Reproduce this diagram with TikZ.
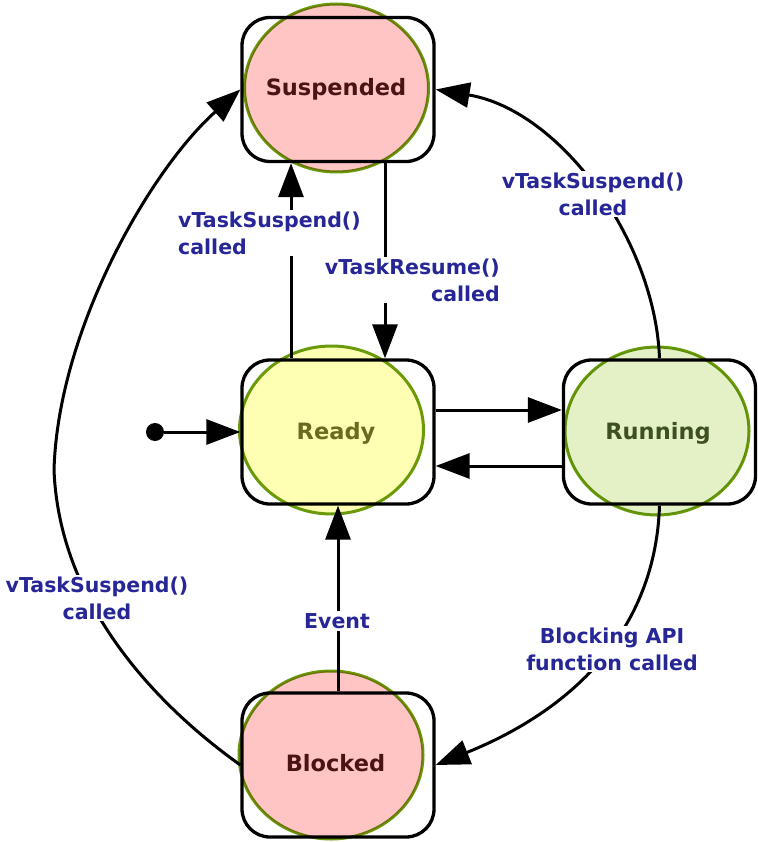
\documentclass[tikz,border=0pt]{standalone}
\usepackage{fontspec}
\setmainfont{DejaVu Sans}
\usetikzlibrary{arrows.meta,shapes.geometric}

\definecolor{pinkfill}{HTML}{FFC4C4}
\definecolor{yellowfill}{HTML}{FFFFB4}
\definecolor{greenfill}{HTML}{E4F0C6}
\definecolor{ringgreen}{HTML}{6A9A0A}
\definecolor{maroontext}{HTML}{4A1414}
\definecolor{olivetext}{HTML}{6B6B1E}
\definecolor{darkgreentext}{HTML}{3C5020}
\definecolor{lblblue}{HTML}{262696}

\begin{document}
\begin{tikzpicture}[x=1pt,y=-1pt,
  staterect/.style={draw=black, line width=3.3pt, fill=white, rounded corners=28pt,
                    minimum width=192pt, minimum height=144pt, inner sep=0pt},
  stateell/.style={ellipse, draw=ringgreen, line width=3pt,
                   minimum width=184pt, minimum height=168pt, inner sep=0pt},
  statename/.style={font=\bfseries\fontsize{22.5}{27}\selectfont, anchor=base, inner sep=0pt},
  trans/.style={line width=3pt, -{Triangle[length=34pt,width=25pt]}},
  lbl/.style={font=\bfseries\fontsize{20.5}{27}\selectfont, text=lblblue, fill=white, inner sep=2pt},
]
\useasboundingbox (0,0) rectangle (757,842);

% state frames
\node[staterect] (Sus) at (338,89.5) {};
\node[staterect] (Rdy) at (338,432) {};
\node[staterect] (Run) at (659.5,432) {};
\node[staterect] (Blk) at (338,765) {};

% initial pseudo-state
\node[circle, fill=black, minimum size=18pt, inner sep=0pt] (init) at (155,432) {};

% transitions
\draw[trans] (init) -- (Rdy.west);
\draw[trans] ([yshift=22pt]Rdy.east) -- ([yshift=22pt]Run.west);
\draw[trans] ([yshift=-34pt]Run.west) -- ([yshift=-34pt]Rdy.east);
\draw[trans] ([xshift=-47pt]Rdy.north) -- ([xshift=-47pt]Sus.south);
\draw[trans] ([xshift=47pt]Sus.south) -- ([xshift=47pt]Rdy.north);
\draw[trans] (Blk.north) -- (Rdy.south);
\draw[trans] (Run.north) .. controls (655,240) and (560,110) .. (Sus.east);
\draw[trans] (Run.south) .. controls (655,640) and (560,715) .. (Blk.east);
\draw[trans] (Blk.west) .. controls (180,722) and (60,620) .. (54,470)
                        .. controls (58,330) and (150,170) .. (Sus.west);

% transition labels
\node[lbl, align=left, anchor=west] (lSusA) at (176,233) {vTaskSuspend()\\called};
\node[lbl, align=right, anchor=east] (lRes) at (502,280) {vTaskResume()\\called};
\node[lbl, align=center] (lSusB) at (593,194) {vTaskSuspend()\\called};
\node[lbl, align=center] (lBlk) at (612,649) {Blocking API\\function called};
\node[lbl] (lEvt) at (337,621) {Event};
\node[lbl, align=center] (lSusC) at (97,598) {vTaskSuspend()\\called};

% state discs, tinted over the frames
\begin{scope}[blend mode=multiply]
  \node[stateell, fill=pinkfill]   (SusE) at (336.5,88) {};
  \node[stateell, fill=yellowfill] (RdyE) at (331.5,430) {};
  \node[stateell, fill=greenfill]  (RunE) at (657,431) {};
  \node[stateell, fill=pinkfill]   (BlkE) at (331,755) {};
\end{scope}

% state names
\node[statename, text=maroontext]    (tSus) at (336,96)  {Suspended};
\node[statename, text=olivetext]     (tRdy) at (336,439) {Ready};
\node[statename, text=darkgreentext] (tRun) at (658,439) {Running};
\node[statename, text=maroontext]    (tBlk) at (335.5,771) {Blocked};
\end{tikzpicture}
\end{document}
